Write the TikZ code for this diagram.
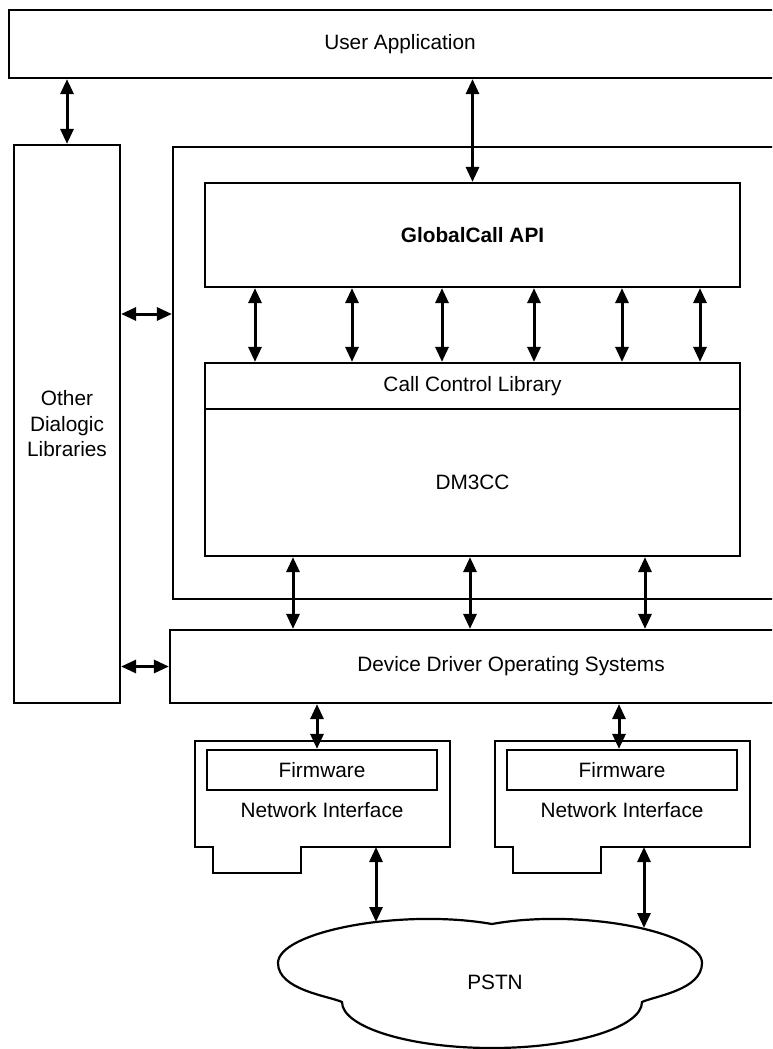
\documentclass[tikz,border=0pt]{standalone}
\usepackage{fontspec}
\setmainfont{Liberation Sans}
\usepackage{tikz}
\usetikzlibrary{arrows.meta}

\begin{document}
\begin{tikzpicture}[x=1pt,y=-1pt]
	\path [use as bounding box, clip] (0,0) rectangle (772,1049);
	\begin{scope}[every node/.style={draw,line width=2.2pt,inner sep=0pt,align=center,
			font=\fontsize{20.8}{25.5}\selectfont}]
		\node (user) at (400,44) [minimum width=782,minimum height=68] {User Application};
		\node (other) at (67,424) [minimum width=106,minimum height=558] {Other\\Dialogic\\Libraries};
		\node (core) at (486.5,373) [minimum width=627,minimum height=452] {};
		\node (gc) at (472.5,235) [minimum width=535,minimum height=104] {\bfseries GlobalCall API};
		\node (ccl) at (472.5,386) [minimum width=535,minimum height=46] {Call Control Library};
		\node (dm) at (472.5,482.5) [minimum width=535,minimum height=147] {DM3CC};
		\node (dd) at (511,666.5) [minimum width=682,minimum height=73] {Device Driver Operating Systems};
		\node (fw1) at (322,770) [minimum width=230,minimum height=40] {Firmware};
		\node (fw2) at (622,770) [minimum width=230,minimum height=40] {Firmware};
	\end{scope}
	
	% network interface cards
	\draw [line width=2.2pt] (195,741) -- (450,741) -- (450,847) -- (301,847) -- (301,873)
		-- (213,873) -- (213,847) -- (195,847) -- cycle;
	\draw [line width=2.2pt] (495,741) -- (750,741) -- (750,847) -- (601,847) -- (601,873)
		-- (513,873) -- (513,847) -- (495,847) -- cycle;
	\node (ni1) at (322,810) [font=\fontsize{20.8}{25.5}\selectfont] {Network Interface};
	\node (ni2) at (622,810) [font=\fontsize{20.8}{25.5}\selectfont] {Network Interface};
	\coordinate (ni1out) at (376,847);
	\coordinate (ni2out) at (644,847);
	
	% PSTN cloud
	\draw [line width=2.2pt] (278,963) .. controls (278,932) and (400,908) .. (492,924)
		.. controls (580,908) and (702,932) .. (702,963)
		.. controls (702,990) and (655,996) .. (642,1002)
		.. controls (642,1027) and (575,1048) .. (492,1048)
		.. controls (409,1048) and (342,1027) .. (342,1002)
		.. controls (329,996) and (278,990) .. (278,963);
	\node (pstn) at (495,982) [font=\fontsize{20.8}{25.5}\selectfont] {PSTN};
	\coordinate (pstnA) at (376,922);
	\coordinate (pstnB) at (644,928);
	
	\begin{scope}[>={Triangle[length=15pt,width=13pt]},
		every path/.style={line width=3pt}]
		\path [<->] (other.north |- user.south) edge (other.north);
		\path [<->] (gc.north |- user.south) edge (gc.north);
		\path [<->] (other.east |- 0,314) edge (core.west |- 0,314);
		\path [<->] (other.east |- dd.west) edge (dd.west);
		
		\foreach \x in {255,352,442,534,622,700}
			\path [<->] (gc.south -| \x,0) edge (ccl.north -| \x,0);
		\foreach \x in {293,470,645}
			\path [<->] (dm.south -| \x,0) edge (dd.north -| \x,0);
		
		\path [<->] (dd.south -| 317,0) edge (fw1.north -| 317,0);
		\path [<->] (dd.south -| 619,0) edge (fw2.north -| 619,0);
		\path [<->] (ni1out) edge (pstnA);
		\path [<->] (ni2out) edge (pstnB);
	\end{scope}
\end{tikzpicture}
\end{document}
